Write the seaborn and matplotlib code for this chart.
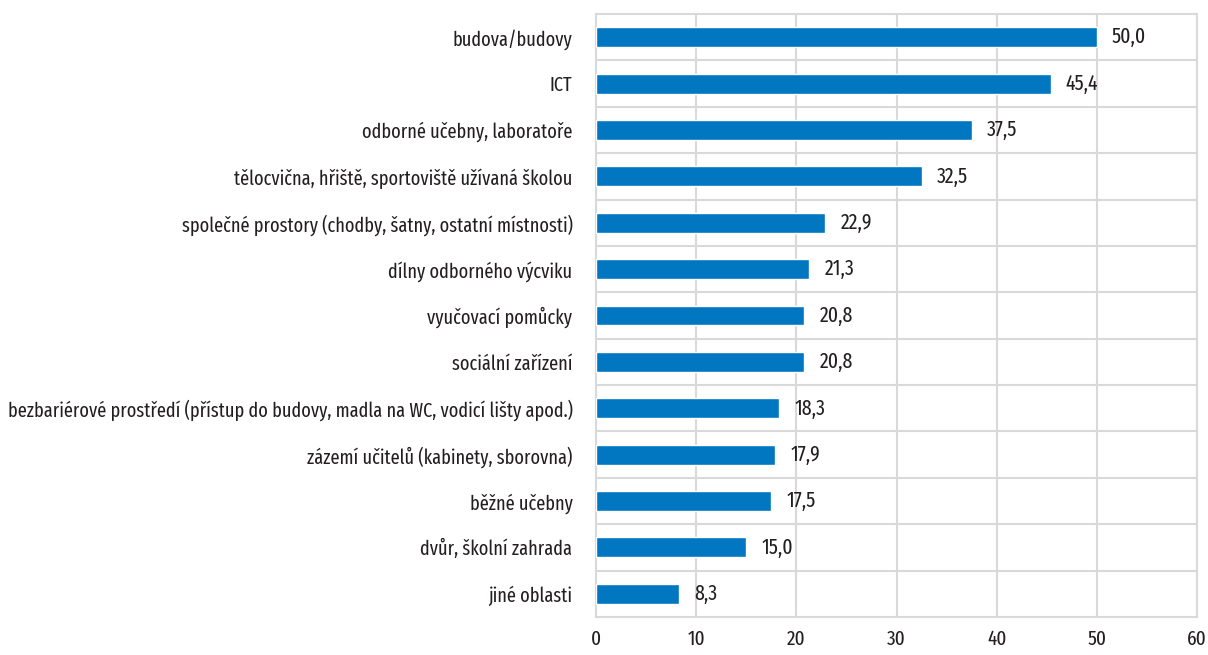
import matplotlib
matplotlib.use("Agg")
import matplotlib.pyplot as plt
import seaborn as sns
import pandas as pd
from matplotlib import font_manager

categories = [
    "budova/budovy",
    "ICT",
    "odborné učebny, laboratoře",
    "tělocvična, hřiště, sportoviště užívaná školou",
    "společné prostory (chodby, šatny, ostatní místnosti)",
    "dílny odborného výcviku",
    "vyučovací pomůcky",
    "sociální zařízení",
    "bezbariérové prostředí (přístup do budovy, madla na WC, vodicí lišty apod.)",
    "zázemí učitelů (kabinety, sborovna)",
    "běžné učebny",
    "dvůr, školní zahrada",
    "jiné oblasti",
]
values = [50.0, 45.4, 37.5, 32.5, 22.9, 21.3, 20.8, 20.8, 18.3, 17.9, 17.5, 15.0, 8.3]
x_ticks = [0, 10, 20, 30, 40, 50, 60]

df = pd.DataFrame({"oblast": categories, "podil": values})

sns.set_theme(style="white")
# condensed font similar to Myriad Pro Condensed, whichever is installed
names = {f.name for f in font_manager.fontManager.ttflist}
candidates = ["Fira Sans Extra Condensed", "Fira Sans Condensed", "PT Sans Narrow",
              "Roboto Condensed", "IBM Plex Sans Condensed", "Liberation Sans Narrow"]
fam = next((c for c in candidates if c in names), "DejaVu Sans")
plt.rcParams["font.family"] = [fam, "DejaVu Sans"]

txt = "#231f20"
grid_c = "#d9d9d9"
bar_c = "#0077c0"
fs_cat = 14.3
fs_val = 15.5
fs_tick = 15

fig = plt.figure(figsize=(12.08, 6.55), dpi=100)
ax = fig.add_axes([0.4934, 0.058, 0.4975, 0.9206])

sns.barplot(data=df, x="podil", y="oblast", color=bar_c, width=0.43,
            saturation=1, ax=ax, zorder=3)

for i, v in enumerate(values):
    ax.text(v + 1.5, i, f"{v:.1f}".replace(".", ","), va="center", ha="left",
            fontsize=fs_val, color=txt)

ax.set_xlim(0, 60)
ax.set_ylim(len(categories) - 0.5, -0.5)
ax.set_xticks(x_ticks)
ax.set_xticklabels([str(t) for t in x_ticks])
ax.set_yticks(range(len(categories)), minor=False)
ax.set_yticks([i + 0.5 for i in range(len(categories) - 1)], minor=True)
ax.grid(axis="x", which="major", color=grid_c, linewidth=1.5, zorder=0)
ax.grid(axis="y", which="minor", color=grid_c, linewidth=1.5, zorder=0)
ax.set_axisbelow(True)
ax.tick_params(axis="both", which="both", length=0, colors=txt)
ax.tick_params(axis="x", pad=9, labelsize=fs_tick)
ax.tick_params(axis="y", pad=17, labelsize=fs_cat)
ax.set_xlabel("")
ax.set_ylabel("")
for s in ax.spines.values():
    s.set_color(grid_c)
    s.set_linewidth(1.5)

fig.savefig("out.png", dpi=100)
